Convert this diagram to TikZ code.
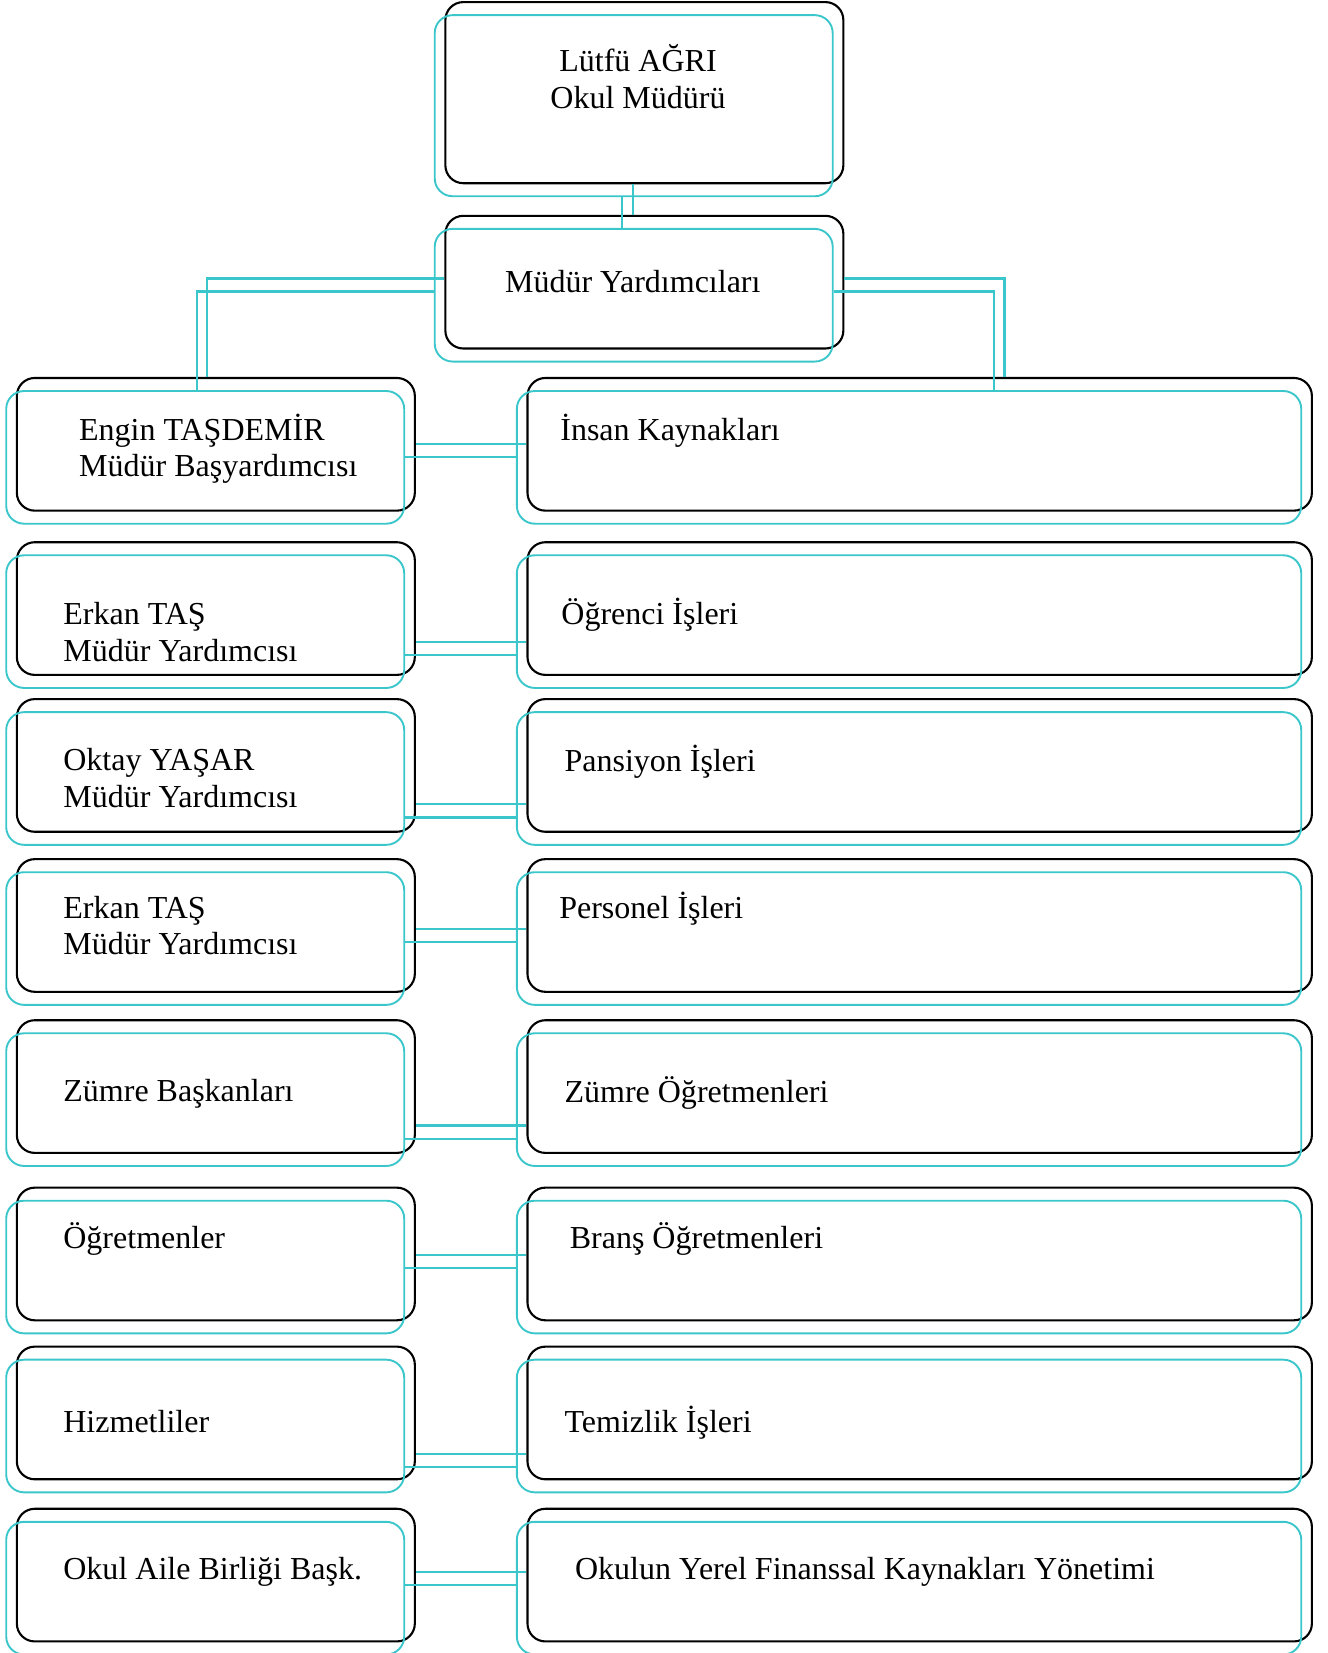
\documentclass[tikz,border=0pt]{standalone}
\usepackage{fontspec}
\setmainfont{Liberation Serif}
\usetikzlibrary{positioning, calc}
\definecolor{turq}{RGB}{58,198,202}
\tikzset{
  box/.style={rounded corners=17pt, minimum height=126pt, anchor=north west, inner sep=0pt},
  link/.style={draw=turq, line width=2pt},
  txt/.style={anchor=base west, align=left, inner sep=0pt, font=\fontsize{30.4}{35}\selectfont},
}
\begin{document}
\begin{tikzpicture}[x=1pt, y=-1pt]
    \useasboundingbox (0,0) rectangle (1261,1570);

    % black layer first, turquoise copy on top of it
    \foreach \ly/\dx/\dy/\col/\lw in {k/0/0/black/2pt, c/-10/12.5/turq/1.8pt} {
    \begin{scope}[shift={(\dx,\dy)}]
    % Define nodes
    \node[box, draw=\col, line width=\lw, minimum width=378pt, minimum height=172pt] (\ly-top) at (422,1) {};
    \node[box, draw=\col, line width=\lw, minimum width=378pt] (\ly-mud) at (422,204) {};
    \foreach \i/\t in {1/358, 2/514, 3/663, 4/815, 5/968, 6/1127, 7/1278, 8/1432} {
        \node[box, draw=\col, line width=\lw, minimum width=378pt] (\ly-l\i) at (15,\t) {};
        \node[box, draw=\col, line width=\lw, minimum width=745pt] (\ly-r\i) at (500,\t) {};
    }

    % Connect nodes
    \draw[link] ([xshift=-11pt]\ly-top.south) -- ([xshift=-11pt]\ly-mud.north);
    \draw[link] ([yshift=3.5pt]\ly-mud.west) -| ([xshift=-8pt]\ly-l1.north);
    \draw[link] ([yshift=3.5pt]\ly-mud.east) -| ([xshift=80.5pt]\ly-r1.north);
    \foreach \i/\o in {1/0, 2/-32, 3/-37, 4/-3, 5/-37, 6/-1, 7/-39, 8/3}
        \draw[link] ([yshift=\o pt]\ly-l\i.east) -- ([yshift=\o pt]\ly-r\i.west);
    \end{scope}
    }

    % Texts (base = last line)
    \node[txt, anchor=base, align=center] (t-top) at (606,103) {Lütfü AĞRI\\Okul Müdürü};
    \node[txt, anchor=base] (t-mud) at (601,278) {Müdür Yardımcıları};

    \node[txt] (t-l1) at (75,453) {Engin TAŞDEMİR\\Müdür Başyardımcısı};
    \node[txt] (t-l2) at (60,628) {Erkan TAŞ\\Müdür Yardımcısı};
    \node[txt] (t-l3) at (60,767) {Oktay YAŞAR\\Müdür Yardımcısı};
    \node[txt] (t-l4) at (60,907) {Erkan TAŞ\\Müdür Yardımcısı};
    \node[txt] (t-l5) at (60,1046) {Zümre Başkanları};
    \node[txt] (t-l6) at (60,1186) {Öğretmenler};
    \node[txt] (t-l7) at (60,1361) {Hizmetliler};
    \node[txt] (t-l8) at (60,1500) {Okul Aile Birliği Başk.};

    \node[txt] (t-r1) at (532,418) {İnsan Kaynakları};
    \node[txt] (t-r2) at (533,593) {Öğrenci İşleri};
    \node[txt] (t-r3) at (536,733) {Pansiyon İşleri};
    \node[txt] (t-r4) at (531,872) {Personel İşleri};
    \node[txt] (t-r5) at (536,1047) {Zümre Öğretmenleri};
    \node[txt] (t-r6) at (541,1186) {Branş Öğretmenleri};
    \node[txt] (t-r7) at (536,1361) {Temizlik İşleri};
    \node[txt] (t-r8) at (546,1500) {Okulun Yerel Finanssal Kaynakları Yönetimi};
\end{tikzpicture}
\end{document}
